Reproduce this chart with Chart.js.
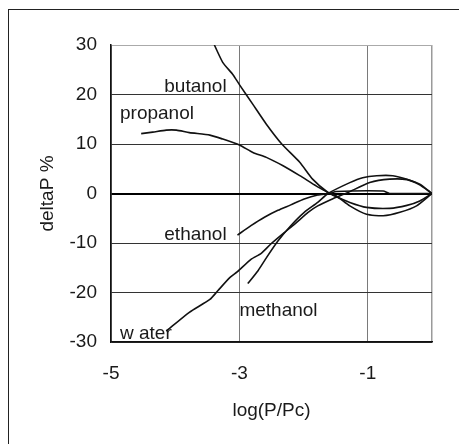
<!DOCTYPE html>
<html>
<head>
<meta charset="utf-8">
<script src="https://cdn.jsdelivr.net/npm/chart.js@4/dist/chart.umd.min.js"></script>
<style>
    html, body { margin: 0; padding: 0; background: #fff; overflow: hidden; }
    .frame { position: absolute; left: 8px; top: 9px; width: 520px; height: 520px; border: 1px solid #222; }
    #chart { position: absolute; left: 0; top: 0; }
</style>
</head>
<body>
<div class="frame"></div>
<canvas id="chart" width="459" height="444"></canvas>
<script>
const xTicks = [-5, -3, -1, 0];
const yMin = -30, yMax = 30;

const waterX = [-4.14, -3.78, -3.46, -3.34, -3.15, -3.03, -2.82, -2.66, -2.51, -2.30, -2.14, -1.93, -1.78, -1.57, -1.31, -0.97, -0.66, -0.39, -0.20, 0];
const waterY = [-27.8, -24.0, -21.4, -19.7, -17.0, -15.8, -13.3, -12.1, -10.2, -7.9, -6.2, -3.8, -2.5, -1.2, 0.2, 2.2, 2.9, 2.8, 1.8, 0];

const methanolX = [-2.87, -2.71, -2.56, -2.40, -2.20, -1.99, -1.78, -1.62, -1.28, -1.08, -0.86, -0.61, -0.39, -0.19, 0];
const methanolY = [-18.2, -15.6, -12.6, -9.6, -6.5, -3.8, -1.8, 0, 2.2, 3.2, 3.6, 3.6, 2.9, 1.9, 0];

const ethanolX = [-3.03, -2.82, -2.61, -2.40, -2.20, -1.99, -1.78, -1.60, -1.49, -0.76, -0.66, 0];
const ethanolY = [-8.4, -6.5, -4.8, -3.4, -2.3, -1.1, -0.3, 0, 0.4, 0.5, 0, 0];

const propanolX = [-4.53, -4.35, -4.14, -3.98, -3.78, -3.46, -3.26, -3.00, -2.79, -2.58, -2.32, -2.06, -1.80, -1.62, -1.55, -1.28, -1.02, -0.66, -0.39, -0.19, 0];
const propanolY = [12.1, 12.4, 12.8, 12.8, 12.3, 11.8, 11.0, 9.8, 8.3, 7.3, 5.6, 3.6, 1.5, 0.2, -0.3, -1.8, -2.8, -3.0, -2.4, -1.5, 0];

const butanolX = [-3.39, -3.26, -3.10, -3.00, -2.79, -2.58, -2.34, -2.06, -1.86, -1.62, -1.49, -1.28, -1.02, -0.76, -0.50, -0.24, 0];
const butanolY = [30, 26.5, 24.0, 22.0, 18.0, 14.0, 10.0, 6.3, 2.9, 0.2, -0.5, -2.5, -4.2, -4.5, -3.8, -2.5, 0];

// curve names written inside the plot, anchored by left edge / vertical middle
const curveLabels = [
    { text: 'butanol', x: -4.17, y: 21.5 },
    { text: 'propanol', x: -4.86, y: 16.2 },
    { text: 'ethanol', x: -4.17, y: -8.4 },
    { text: 'methanol', x: -3.0, y: -23.7 },
    { text: 'w ater', x: -4.86, y: -28.4 }
];

const FONT = { family: '"Liberation Sans", Arial, sans-serif', size: 19 };
const INK = '#1a1a1a';

function points(xs, ys) {
    return xs.map((x, i) => ({ x: x, y: ys[i] }));
}

function series(label, xs, ys) {
    return {
        label: label,
        data: points(xs, ys),
        showLine: true,
        borderColor: '#111',
        borderWidth: 1.6,
        pointRadius: 0,
        tension: 0.2
    };
}

const curveLabelPlugin = {
    id: 'curveLabels',
    afterDatasetsDraw(chart) {
        const { ctx, scales: { x, y } } = chart;
        ctx.save();
        ctx.font = FONT.size + 'px ' + FONT.family;
        ctx.fillStyle = INK;
        ctx.textAlign = 'left';
        ctx.textBaseline = 'middle';
        curveLabels.forEach((l) => {
            ctx.fillText(l.text, x.getPixelForValue(l.x), y.getPixelForValue(l.y));
        });
        ctx.restore();
    }
};

new Chart(document.getElementById('chart'), {
    type: 'scatter',
    data: {
        datasets: [
            series('water', waterX, waterY),
            series('methanol', methanolX, methanolY),
            series('ethanol', ethanolX, ethanolY),
            series('propanol', propanolX, propanolY),
            series('butanol', butanolX, butanolY)
        ]
    },
    options: {
        responsive: false,
        animation: false,
        devicePixelRatio: 1,
        layout: { padding: { left: 0, top: 45, right: 27, bottom: 0 } },
        plugins: {
            legend: { display: false },
            tooltip: { enabled: false }
        },
        scales: {
            x: {
                type: 'linear',
                min: -5,
                max: 0,
                afterBuildTicks: (scale) => { scale.ticks = xTicks.map((v) => ({ value: v })); },
                afterFit: (scale) => { scale.height = 102; },
                ticks: {
                    font: FONT,
                    color: INK,
                    padding: 20,
                    callback: (v) => (v === 0 ? '' : String(v))
                },
                grid: {
                    drawTicks: false,
                    color: (c) => (c.tick && c.tick.value === 0 ? '#9a9a9a' : '#7a7a7a'),
                    lineWidth: (c) => (c.tick && c.tick.value === 0 ? 1.5 : 1)
                },
                border: { color: '#111', width: 1.5 },
                title: {
                    display: true,
                    text: 'log(P/Pc)',
                    font: FONT,
                    color: INK,
                    padding: { top: 0, bottom: 22 }
                }
            },
            y: {
                min: yMin,
                max: yMax,
                afterFit: (scale) => { scale.width = 111; },
                ticks: {
                    stepSize: 10,
                    font: FONT,
                    color: INK,
                    padding: 14
                },
                grid: {
                    drawTicks: false,
                    color: (c) => {
                        if (!c.tick) return '#333';
                        if (c.tick.value === 0) return '#000';
                        if (c.tick.value === yMax) return '#aaa';
                        return '#333';
                    },
                    lineWidth: (c) => (c.tick && c.tick.value === 0 ? 2 : 1)
                },
                border: { color: '#111', width: 1.5 },
                title: {
                    display: true,
                    text: 'deltaP %',
                    font: FONT,
                    color: INK,
                    padding: { top: 36, bottom: 0 }
                }
            }
        }
    },
    plugins: [curveLabelPlugin]
});
</script>
</body>
</html>
